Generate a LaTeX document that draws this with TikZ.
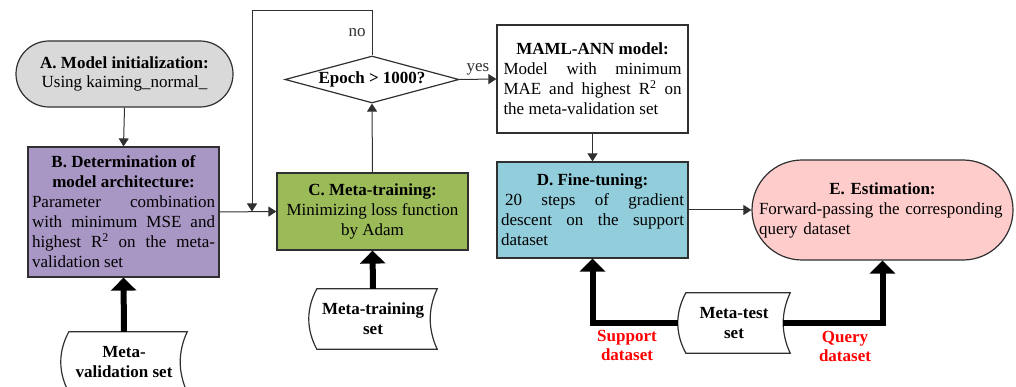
\documentclass[tikz,border=0pt]{standalone}
\usepackage{fontspec}
\setmainfont{Liberation Serif}
\usetikzlibrary{arrows.meta,shapes.geometric,calc}
\definecolor{lc}{HTML}{303030}
\definecolor{aGray}{HTML}{D9D9D9}
\definecolor{bPurple}{HTML}{A897C4}
\definecolor{cGreen}{HTML}{9BBB59}
\definecolor{dBlue}{HTML}{92CDDC}
\definecolor{ePink}{HTML}{FFCCCC}
\newcommand{\storedshape}[1]{%
  \draw[boxline] ([xshift=8pt]#1.north west) -- (#1.north east)
    .. controls ([xshift=-9.3pt,yshift=-20pt]#1.north east) and ([xshift=-9.3pt,yshift=20pt]#1.south east) .. (#1.south east)
    -- ([xshift=8pt]#1.south west)
    .. controls ([xshift=-2.7pt,yshift=20pt]#1.south west) and ([xshift=-2.7pt,yshift=-20pt]#1.north west) .. ([xshift=8pt]#1.north west) -- cycle;}
\begin{document}
\begin{tikzpicture}[x=1pt,y=-1pt,
  every node/.style={font=\fontsize{17}{20}\selectfont, text=black},
  boxline/.style={draw=lc, line width=1.2pt},
  arr/.style={draw=lc, line width=1pt, -{Triangle[width=10pt,length=8pt]}},
  fat/.style={draw=black, line width=6pt, -{Triangle[width=25pt,length=13pt]}},
  box/.style={boxline, rectangle, inner sep=4pt},
  lbl/.style={font=\fontsize{17}{20}\selectfont, text=lc},
  redlbl/.style={font=\fontsize{17}{19}\selectfont\bfseries, text=red, align=center},
  docnode/.style={minimum height=60pt, inner sep=0pt, align=center, font=\fontsize{17}{20}\selectfont\bfseries},
]
\useasboundingbox (0,0) rectangle (1016,387);

% main boxes
\node[box, fill=aGray, rounded corners=33pt, minimum width=217pt, minimum height=66pt, align=center] (A) at (124.5,74)
  {\textbf{A. Model initialization:}\\[-1pt]Using kaiming\_normal\_};
\node[box, fill=bPurple, minimum width=191pt, minimum height=130pt, text width=183pt, align=justify] (B) at (123.5,212)
  {{\centering\bfseries B. Determination of\\model architecture:\par}Parameter combination\linebreak with minimum MSE and\linebreak highest R\textsuperscript{2} on the meta-\linebreak validation set};
\node[box, fill=cGreen, minimum width=191pt, minimum height=77pt, align=center] (C) at (372.5,211.5)
  {\textbf{C. Meta-training:}\\Minimizing loss function\\by Adam};
\node[boxline, diamond, aspect=3.7, inner sep=0pt, minimum width=174pt, minimum height=47pt, fill=white] (dia) at (372,79.5)
  {\textbf{Epoch > 1000?}};
\node[box, minimum width=191pt, minimum height=108pt, text width=178pt, align=justify] (M) at (592.5,79)
  {{\centering\bfseries MAML-ANN model:\par}Model with minimum\linebreak MAE and highest R\textsuperscript{2} on\linebreak the meta-validation set};
\node[box, fill=dBlue, minimum width=191pt, minimum height=96pt, text width=183pt, align=justify] (D) at (592.5,210)
  {{\centering\bfseries D. Fine-tuning:\par}\hspace*{4pt}20 steps of gradient\linebreak descent on the support\linebreak dataset};
\node[box, fill=ePink, rounded corners=50pt, minimum width=261pt, minimum height=100pt, text width=247pt, align=left] (E) at (882.5,210)
  {{\centering\bfseries E. Estimation:\par}Forward-passing the corresponding\\query dataset};

% data sets
\node[docnode, minimum width=126pt] (mv) at (124,362) {Meta-\\validation set};
\storedshape{mv}
\node[docnode, minimum width=128pt] (mtr) at (373,319) {Meta-training\\set};
\storedshape{mtr}
\node[docnode, minimum width=112pt] (mte) at (734,323) {Meta-test\\set};
\storedshape{mte}

% thin connectors
\coordinate (ncorner) at (252,11);
\coordinate (njoin) at (252,211.5);
\draw[arr] (A.south) -- (B.north);
\draw[arr] (B.east) -- (C.west);
\draw[arr] (C.north) -- (dia.south);
\draw[arr] (dia.north) |- (ncorner) -- (njoin);
\node[lbl] (nolbl) at (357,33) {no};
\draw[arr] (dia.east) -- node[lbl, above] (yeslbl) {yes} (M.west);
\draw[arr] (M.south) -- (D.north);
\draw[arr] (D.east) -- (E.west);

% thick connectors
\draw[fat] (mv.north) -- (B.south);
\draw[fat] (mtr.north) -- (C.south);
\draw[fat] (mte.west) -| (D.south);
\draw[fat] ([xshift=-7pt]mte.east) -| (E.south);
\node[redlbl] (sup) at (627,345) {Support\\dataset};
\node[redlbl] (qry) at (845,346) {Query\\dataset};
\end{tikzpicture}
\end{document}
